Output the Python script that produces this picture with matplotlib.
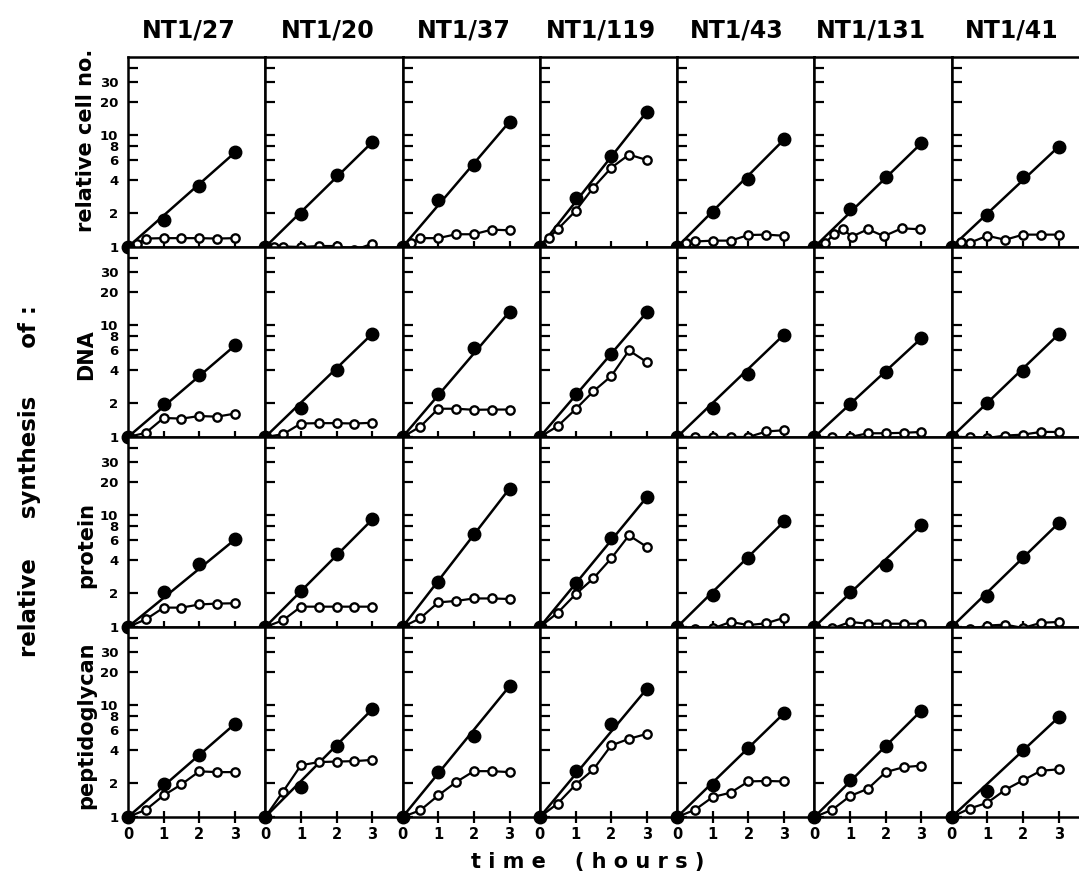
import numpy as np
import matplotlib.pyplot as plt
from matplotlib.ticker import FixedLocator, FixedFormatter, NullLocator

plt.rcParams['font.family'] = 'DejaVu Sans'
plt.rcParams['font.weight'] = 'bold'

strains = ['NT1/27', 'NT1/20', 'NT1/37', 'NT1/119', 'NT1/43', 'NT1/131', 'NT1/41']
rows = ['relative cell no.', 'DNA', 'protein', 'peptidoglycan']

t_filled = [0, 1, 2, 3]
t_open = [0, 0.5, 1, 1.5, 2, 2.5, 3]
t_open_q = [0, 0.25, 0.5, 1, 1.5, 2, 2.5, 3]
t_open_131 = [0, 0.3, 0.55, 0.8, 1.05, 1.5, 1.95, 2.45, 2.95]

# relative cell number
cell_filled = [
    [1, 1.73, 3.5, 7.0],
    [1, 1.96, 4.39, 8.66],
    [1, 2.61, 5.4, 13.2],
    [1, 2.72, 6.45, 16.2],
    [1, 2.07, 4.05, 9.15],
    [1, 2.17, 4.25, 8.48],
    [1, 1.95, 4.2, 7.9],
]
cell_open_t = [t_open_q, t_open_q, t_open_q, t_open_q, t_open_q, t_open_131, t_open_q]
cell_open = [
    [1, 1.06, 1.19, 1.2, 1.2, 1.2, 1.19, 1.2],
    [1, 1.0, 1.01, 1.0, 1.02, 1.02, 0.94, 1.07],
    [1, 1.09, 1.2, 1.2, 1.3, 1.3, 1.43, 1.41],
    [1, 1.21, 1.44, 2.1, 3.4, 5.1, 6.7, 6.0],
    [1, 1.09, 1.12, 1.14, 1.14, 1.28, 1.29, 1.26],
    [1, 1.08, 1.31, 1.44, 1.24, 1.44, 1.25, 1.47, 1.44],
    [1, 1.11, 1.09, 1.26, 1.16, 1.29, 1.29, 1.29],
]

# DNA
dna_filled = [
    [1, 1.98, 3.55, 6.58],
    [1, 1.83, 3.94, 8.37],
    [1, 2.4, 6.28, 13.2],
    [1, 2.44, 5.47, 13.06],
    [1, 1.8, 3.63, 8.25],
    [1, 1.96, 3.83, 7.65],
    [1, 2.0, 3.9, 8.3],
]
dna_open = [
    [1, 1.09, 1.48, 1.46, 1.54, 1.52, 1.62],
    [1, 1.06, 1.32, 1.33, 1.33, 1.32, 1.34],
    [1, 1.24, 1.79, 1.79, 1.75, 1.76, 1.76],
    [1, 1.25, 1.77, 2.56, 3.5, 5.94, 4.67],
    [1, 1.0, 1.0, 1.0, 1.0, 1.12, 1.15],
    [1, 0.99, 1.0, 1.08, 1.08, 1.09, 1.11],
    [1, 1.0, 0.98, 1.03, 1.05, 1.11, 1.11],
]

# protein
prot_filled = [
    [1, 2.07, 3.63, 6.06],
    [1, 2.1, 4.52, 9.15],
    [1, 2.52, 6.72, 17.3],
    [1, 2.49, 6.19, 14.5],
    [1, 1.92, 4.16, 8.78],
    [1, 2.05, 3.58, 8.09],
    [1, 1.9, 4.2, 8.5],
]
prot_open = [
    [1, 1.17, 1.49, 1.49, 1.59, 1.62, 1.63],
    [1, 1.15, 1.52, 1.52, 1.52, 1.52, 1.52],
    [1, 1.2, 1.66, 1.71, 1.8, 1.8, 1.78],
    [1, 1.34, 1.96, 2.72, 4.1, 6.6, 5.2],
    [1, 0.95, 0.97, 1.11, 1.04, 1.08, 1.21],
    [1, 0.97, 1.11, 1.07, 1.07, 1.07, 1.07],
    [1, 0.95, 1.03, 1.05, 0.98, 1.09, 1.11],
]

# peptidoglycan
pep_filled = [
    [1, 1.96, 3.55, 6.81],
    [1, 1.85, 4.33, 9.2],
    [1, 2.52, 5.29, 14.8],
    [1, 2.57, 6.81, 14.0],
    [1, 1.92, 4.13, 8.48],
    [1, 2.13, 4.3, 8.96],
    [1, 1.7, 4.0, 7.8],
]
pep_open = [
    [1, 1.16, 1.56, 1.96, 2.56, 2.52, 2.52],
    [1, 1.69, 2.9, 3.1, 3.13, 3.16, 3.24],
    [1, 1.15, 1.56, 2.05, 2.57, 2.57, 2.52],
    [1, 1.32, 1.94, 2.66, 4.36, 5.0, 5.54],
    [1, 1.16, 1.51, 1.65, 2.08, 2.1, 2.08],
    [1, 1.16, 1.54, 1.79, 2.52, 2.79, 2.88],
    [1, 1.19, 1.34, 1.75, 2.13, 2.59, 2.67],
]

filled = [cell_filled, dna_filled, prot_filled, pep_filled]
opened = [cell_open, dna_open, prot_open, pep_open]
opened_t = [cell_open_t, [t_open] * 7, [t_open] * 7, [t_open] * 7]

yticks = [1, 2, 4, 6, 8, 10, 20, 30, 40]
ylabels = ['1', '2', '4', '6', '8', '10', '20', '30', '']
xticks = [0, 1, 2, 3]

W, H = 1079, 884
fig = plt.figure(figsize=(W / 100, H / 100), dpi=100)
gs = fig.add_gridspec(4, 7, left=128 / W, right=1089 / W, top=1 - 57 / H,
                      bottom=1 - 817 / H, hspace=0, wspace=0)

for r in range(4):
    for c in range(7):
        ax = fig.add_subplot(gs[r, c])
        ax.set_yscale('log')
        fv = filled[r][c]
        # straight line from origin to the last control point
        ax.plot([t_filled[0], t_filled[-1]], [fv[0], fv[-1]], color='black', lw=1.8, zorder=3)
        ax.plot(opened_t[r][c], opened[r][c], color='black', lw=1.6, marker='o', ms=6,
                mfc='white', mec='black', mew=1.7, zorder=4, clip_on=False)
        ax.plot(t_filled, fv, ls='none', marker='o', ms=9, color='black', zorder=5, clip_on=False)
        ax.set_xlim(0, 3.85)
        ax.set_ylim(1, 50)
        ax.yaxis.set_major_locator(FixedLocator(yticks))
        ax.yaxis.set_major_formatter(FixedFormatter(ylabels))
        ax.yaxis.set_minor_locator(NullLocator())
        ax.set_xticks(xticks)
        ax.set_xticklabels([str(x) for x in xticks])
        ax.tick_params(axis='y', direction='in', length=7, width=1.6, labelsize=9.5, pad=7,
                       labelleft=(c == 0))
        ax.tick_params(axis='x', direction='inout', length=9, width=1.6, labelsize=10.5, pad=3,
                       labelbottom=(r == 3))
        for s in ax.spines.values():
            s.set_linewidth(1.8)

title_x = [189, 328, 464, 601, 737, 871, 1012]
for c, name in enumerate(strains):
    fig.text(title_x[c] / W, 1 - 30 / H, name, ha='center', va='center', fontsize=17,
             fontweight='bold')

row_y = [140, 355, 545, 725]
for r, name in enumerate(rows):
    fig.text(86 / W, 1 - row_y[r] / H, name, rotation=90, ha='center', va='center',
             fontsize=15, fontweight='bold')

fig.text(30 / W, 1 - 481 / H, 'relative     synthesis      of :', rotation=90, ha='center',
         va='center', fontsize=16.5, fontweight='bold')
fig.text(588 / W, 1 - 862 / H, 't i m e    ( h o u r s )', ha='center', va='center',
         fontsize=15, fontweight='bold')

fig.savefig('out.png', dpi=100)
